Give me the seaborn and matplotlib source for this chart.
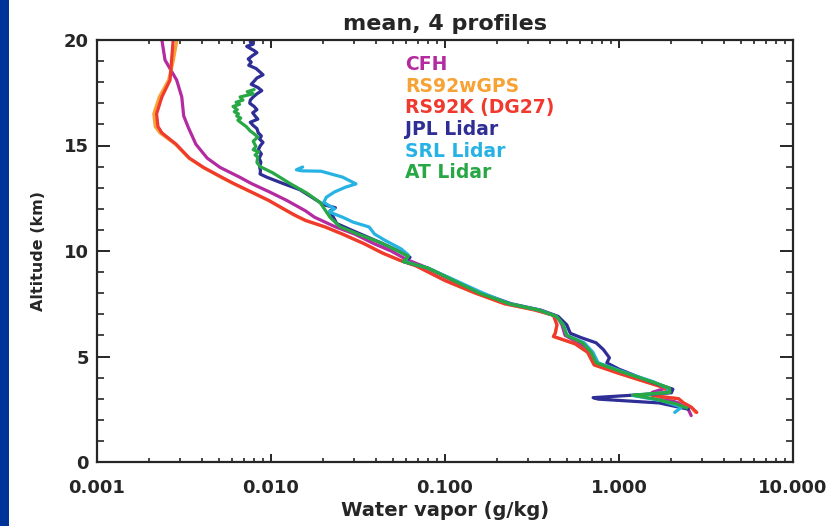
import numpy as np
import pandas as pd
import matplotlib
matplotlib.use("Agg")
import matplotlib.pyplot as plt
from matplotlib.patches import Rectangle
from matplotlib.ticker import FixedLocator, FixedFormatter, MultipleLocator, LogLocator, NullFormatter
import seaborn as sns

# ---- mean water vapour profiles (altitude in km, mixing ratio in g/kg) ----
series_names = ["CFH", "RS92wGPS", "RS92K (DG27)", "JPL Lidar", "SRL Lidar", "AT Lidar"]
series_colors = ["#b42aa0", "#f7a235", "#f0392f", "#2e2e96", "#27b2e4", "#27a845"]

cfh_alt = [20.0, 19.05, 18.1, 17.3, 16.4, 15.85, 15.06, 14.4, 13.96, 13.5, 13.2, 12.8, 12.4,
           11.9, 11.6, 11.14, 10.8, 10.35, 10.0, 9.6, 9.3, 8.6, 8.0, 7.5, 7.2, 6.9, 6.5,
           6.0, 5.6, 5.2, 4.7, 4.2, 3.8, 3.5, 3.3, 3.05, 2.8, 2.5, 2.2]
cfh_val = [0.00236, 0.00246, 0.00287, 0.00307, 0.00315, 0.00335, 0.00370, 0.00430, 0.00510,
           0.00660, 0.00770, 0.00980, 0.0123, 0.0158, 0.0178, 0.0235, 0.0303, 0.0390,
           0.0490, 0.0600, 0.0740, 0.110, 0.160, 0.230, 0.340, 0.440, 0.470, 0.490, 0.600,
           0.680, 0.740, 1.05, 1.50, 1.85, 1.55, 1.75, 2.20, 2.50, 2.60]

rs92k_alt = [20.0, 19.0, 18.1, 17.3, 16.5, 15.9, 15.6, 15.06, 14.4, 13.96, 13.5, 13.2, 12.8,
             12.4, 11.9, 11.7, 11.45, 11.14, 10.8, 10.35, 9.9, 9.56, 9.3, 8.6, 8.0, 7.5,
             7.2, 6.95, 6.5, 6.1, 5.95, 5.6, 5.2, 4.6, 4.2, 3.9, 3.6, 3.4, 3.15, 3.0, 2.8,
             2.6, 2.35]
rs92k_val = [0.00274, 0.00268, 0.00263, 0.00236, 0.00220, 0.00224, 0.00236, 0.00285, 0.00340,
             0.00410, 0.00520, 0.00610, 0.00770, 0.00970, 0.0124, 0.0137, 0.0158, 0.0205,
             0.0258, 0.0342, 0.0438, 0.0550, 0.0680, 0.100, 0.150, 0.220, 0.330, 0.420,
             0.440, 0.430, 0.420, 0.560, 0.660, 0.720, 1.00, 1.30, 1.70, 2.00, 1.55, 2.20,
             2.35, 2.60, 2.80]

gps_alt = rs92k_alt
gps_val = [0.00288, 0.00274, 0.00258, 0.00228, 0.00212, 0.00216, 0.00230, 0.00282, 0.00337,
           0.00406, 0.00515, 0.00605, 0.00765, 0.00965, 0.0123, 0.0136, 0.0157, 0.0204,
           0.0257, 0.0342, 0.0438, 0.0550, 0.0680, 0.100, 0.150, 0.220, 0.330, 0.420,
           0.440, 0.430, 0.420, 0.560, 0.660, 0.720, 1.00, 1.30, 1.70, 2.00, 1.55, 2.20,
           2.35, 2.60, 2.75]

jpl_alt = [20.0, 19.9, 19.8, 19.7, 19.6, 19.5, 19.4, 19.25, 19.1, 18.95, 18.8, 18.65, 18.5,
           18.35, 18.2, 18.05, 17.9, 17.75, 17.6, 17.45, 17.3, 17.15, 17.0, 16.85, 16.7,
           16.55, 16.4, 16.25, 16.1, 15.95, 15.8, 15.6, 15.45, 15.3, 15.15, 15.0, 14.8,
           14.6, 14.4, 14.2, 14.0, 13.8, 13.65, 13.5, 13.2, 12.9, 12.4, 12.2, 12.05, 11.9,
           11.3, 11.0, 10.5, 10.0, 9.7, 9.5, 9.35, 9.2, 8.6, 8.0, 7.5, 7.2, 6.9, 6.5, 6.1,
           5.9, 5.65, 5.33, 4.94, 4.7, 4.4, 4.0, 3.7, 3.45, 3.28, 3.05, 2.98, 2.8, 2.5]
jpl_val = [0.00800, 0.00760, 0.00790, 0.00725, 0.00760, 0.00800, 0.00830, 0.00780, 0.00740,
           0.00770, 0.00745, 0.00820, 0.00860, 0.00900, 0.00830, 0.00800, 0.00770, 0.00840,
           0.00885, 0.00830, 0.00790, 0.00760, 0.00755, 0.00800, 0.00830, 0.00785, 0.00810,
           0.00840, 0.00760, 0.00790, 0.00830, 0.00845, 0.00880, 0.00860, 0.00900, 0.00870,
           0.00845, 0.00880, 0.00855, 0.00875, 0.00860, 0.00870, 0.00865, 0.00944, 0.01172,
           0.01469, 0.01832, 0.01995, 0.02344, 0.02183, 0.02388, 0.02884, 0.0398, 0.0541,
           0.0630, 0.0575, 0.0676, 0.0794, 0.1135, 0.162, 0.240, 0.355, 0.447, 0.501,
           0.525, 0.603, 0.738, 0.813, 0.881, 0.851, 1.00, 1.32, 1.66, 2.04, 2.00, 0.71,
           0.76, 1.70, 2.51]

srl_alt = [13.98, 13.85, 13.8, 13.78, 13.5, 13.18, 13.02, 12.8, 12.55, 12.3, 12.0, 11.85,
           11.6, 11.37, 11.14, 10.8, 10.5, 10.1, 9.8, 9.5, 9.35, 9.2, 8.6, 8.0, 7.5, 7.2,
           6.9, 6.5, 6.0, 5.65, 5.2, 4.7, 4.2, 3.8, 3.5, 3.3, 3.15, 2.9, 2.6, 2.35]
srl_val = [0.0152, 0.0140, 0.0150, 0.0194, 0.0258, 0.0308, 0.0267, 0.0232, 0.0208, 0.0201,
           0.0232, 0.0216, 0.0258, 0.0296, 0.0366, 0.0394, 0.0453, 0.0560, 0.0617, 0.0589,
           0.0676, 0.0794, 0.115, 0.166, 0.234, 0.347, 0.437, 0.479, 0.501, 0.631, 0.708,
           0.759, 1.12, 1.58, 1.91, 1.91, 1.20, 1.78, 2.29, 2.09]

at_alt = [17.65, 17.55, 17.45, 17.3, 17.15, 17.05, 16.95, 16.85, 16.7, 16.6, 16.5, 16.4,
          16.3, 16.2, 16.05, 15.9, 15.7, 15.55, 15.4, 15.2, 14.95, 14.8, 14.7, 14.55, 14.45,
          14.2, 14.0, 13.7, 13.2, 12.75, 12.3, 11.6, 11.15, 10.8, 10.4, 10.0, 9.75, 9.5,
          9.35, 9.2, 8.6, 8.0, 7.5, 7.2, 6.9, 6.5, 6.0, 5.65, 5.2, 4.7, 4.2, 3.8, 3.5, 3.3,
          3.17, 3.0, 2.75, 2.56]
at_val = [0.00800, 0.00730, 0.00790, 0.00664, 0.00690, 0.00630, 0.00660, 0.00605, 0.00640,
          0.00615, 0.00650, 0.00635, 0.00670, 0.00645, 0.00680, 0.00720, 0.00757, 0.00800,
          0.00840, 0.00790, 0.00820, 0.00790, 0.00850, 0.00810, 0.00840, 0.00830, 0.00865,
          0.01026, 0.01285, 0.01603, 0.01914, 0.02183, 0.0249, 0.0316, 0.0427, 0.0537,
          0.0617, 0.0575, 0.0676, 0.0794, 0.112, 0.158, 0.234, 0.347, 0.437, 0.479, 0.501,
          0.617, 0.692, 0.741, 1.10, 1.55, 1.95, 1.96, 1.20, 1.58, 2.14, 2.45]

x_ticks = [0.001, 0.01, 0.1, 1.0, 10.0]
x_tick_labels = ["0.001", "0.010", "0.100", "1.000", "10.000"]
y_ticks = [0, 5, 10, 15, 20]

# ---- long-format table, one block per instrument ----
blocks = [
    (series_names[0], cfh_alt, cfh_val),
    (series_names[1], gps_alt, gps_val),
    (series_names[2], rs92k_alt, rs92k_val),
    (series_names[3], jpl_alt, jpl_val),
    (series_names[4], srl_alt, srl_val),
    (series_names[5], at_alt, at_val),
]
df = pd.concat([pd.DataFrame({"instrument": name, "altitude": alt, "wv": val})
                for name, alt, val in blocks], ignore_index=True)

sns.set_theme(style="white")
plt.rcParams["font.family"] = ["DejaVu Sans"]
ink = "#262626"

fig = plt.figure(figsize=(8.35, 5.26), dpi=100)
fig.patch.set_facecolor("white")
fig.patches.append(Rectangle((0, 0), 9 / 835, 1, transform=fig.transFigure,
                             facecolor="#003399", edgecolor="none", zorder=0))

ax = fig.add_axes([97 / 835, 1 - 462 / 526, 696 / 835, 422 / 526])

# profiles are drawn in measurement order (no sorting, no aggregation)
for name, col in zip(series_names, series_colors):
    sub = df[df["instrument"] == name]
    sns.lineplot(data=sub, x="wv", y="altitude", color=col, lw=2.3, sort=False,
                 estimator=None, ax=ax, solid_joinstyle="round", solid_capstyle="round")

ax.set_xscale("log")
ax.set_xlim(0.001, 10.0)
ax.set_ylim(0, 20)

ax.xaxis.set_major_locator(FixedLocator(x_ticks))
ax.xaxis.set_major_formatter(FixedFormatter(x_tick_labels))
ax.xaxis.set_minor_locator(LogLocator(base=10, subs=np.arange(2, 10)))
ax.xaxis.set_minor_formatter(NullFormatter())
ax.yaxis.set_major_locator(FixedLocator(y_ticks))
ax.yaxis.set_minor_locator(MultipleLocator(1))

for sp in ax.spines.values():
    sp.set_color(ink)
    sp.set_linewidth(1.6)

ax.tick_params(axis="x", which="major", direction="in", length=6, width=1.4,
               top=True, bottom=True, colors=ink, labelsize=13, pad=12)
ax.tick_params(axis="x", which="minor", direction="in", length=3, width=1.2,
               top=True, bottom=True, colors=ink)
ax.tick_params(axis="y", which="major", direction="in", length=9.5, width=1.4,
               left=True, right=True, colors=ink, labelsize=13, pad=6)
ax.tick_params(axis="y", which="minor", direction="in", length=5, width=1.2,
               left=True, right=True, colors=ink)
for lab in ax.get_xticklabels() + ax.get_yticklabels():
    lab.set_fontweight("bold")

ax.set_xlabel("Water vapor (g/kg)", fontsize=14, fontweight="bold", color=ink, labelpad=3)
ax.set_ylabel("Altitude (km)", fontsize=11.5, fontweight="bold", color=ink, labelpad=13)
ax.set_title("mean, 4 profiles", fontsize=16, fontweight="bold", color=ink, pad=7)

for i, (name, col) in enumerate(zip(series_names, series_colors)):
    ax.text(0.4425, 0.942 - i * 0.0514, name, transform=ax.transAxes, color=col,
            fontsize=13.5, fontweight="bold", va="center", ha="left")

fig.savefig("out.png", dpi=100, facecolor=fig.get_facecolor())
